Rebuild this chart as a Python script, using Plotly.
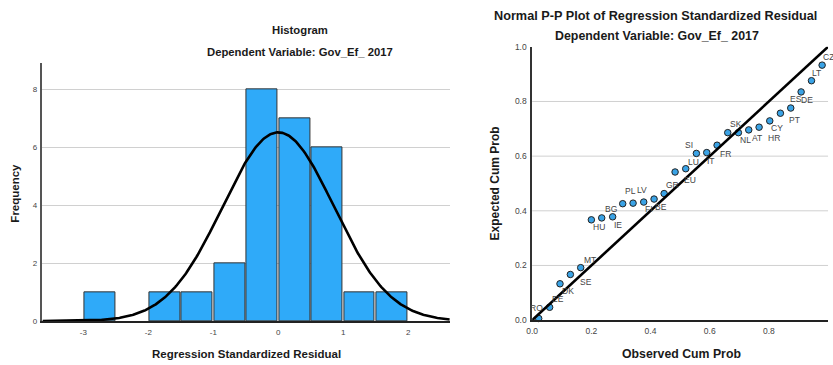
import numpy as np
import plotly.graph_objects as go

# ---- Histogram of regression standardized residuals ----
bin_left = [-3.0, -2.0, -1.5, -1.0, -0.5, 0.0, 0.5, 1.0, 1.5]
bin_count = [1, 1, 1, 2, 8, 7, 6, 1, 1]
bin_width = 0.5
resid_mean = 0.0
resid_sd = 0.857
n_obs = 28
hist_xticks = [-3, -2, -1, 0, 1, 2]
hist_xticktext = ["-3", "-2", "-1", "0", "1", "2"]
hist_yticks = [0, 2, 4, 6, 8]

# ---- Normal P-P plot ----
countries = ["RO", "EE", "DK", "SE", "MT", "HU", "BG", "IE", "PL", "LV",
             "FI", "BE", "GR", "EU", "LU", "SI", "IT", "FR", "SK", "NL",
             "AT", "HR", "CY", "PT", "ES", "DE", "LT", "CZ"]
observed = [0.022, 0.059, 0.094, 0.129, 0.164, 0.200, 0.235, 0.272, 0.306, 0.341,
            0.377, 0.412, 0.446, 0.483, 0.519, 0.555, 0.590, 0.625, 0.661, 0.697,
            0.732, 0.767, 0.803, 0.839, 0.874, 0.909, 0.944, 0.980]
expected = [0.006, 0.047, 0.133, 0.167, 0.192, 0.367, 0.374, 0.378, 0.426, 0.428,
            0.432, 0.443, 0.463, 0.542, 0.554, 0.610, 0.613, 0.640, 0.686, 0.686,
            0.696, 0.706, 0.729, 0.757, 0.776, 0.835, 0.876, 0.933]
# label offsets from each point, in pixels (right, down)
label_dx = [-2, 8, 8, 16, 9, 8, 9, 5, 8, 9, 5, 7, 8, 15, 8, -7, 4, 8, 8, 7,
            8, 15, 7, 14, 5, 6, 5, 6]
label_dy = [-10, -8, 7, 8, -8, 7, -9, 8, -13, -13, 7, 8, -9, 8, -7, -8, 8, 9, -9, 7,
            8, 11, 7, 7, -9, 8, -8, -8]
pp_ticks = [0.0, 0.2, 0.4, 0.6, 0.8, 1.0]
pp_grid = [0.2, 0.4, 0.6, 0.8]
ref_line = [0.0, 1.0]

W, H = 833, 365
FONT = "Liberation Sans, Arial, sans-serif"
BAR_BLUE = "#2faaf9"
DOT_BLUE = "#3aa3e6"


def px(x):
    return x / W


def py(y):
    return 1 - y / H


fig = go.Figure()

# histogram bars
centers = [b + bin_width / 2 for b in bin_left]
fig.add_trace(go.Bar(
    x=centers, y=bin_count, width=bin_width * 0.95,
    marker=dict(color=BAR_BLUE, line=dict(color="#333333", width=1)),
    xaxis="x", yaxis="y", showlegend=False, hoverinfo="skip"))

# fitted normal curve
x_lo, x_hi = -3.63, 2.64
xs = np.linspace(x_lo, x_hi, 400)
dens = np.exp(-0.5 * ((xs - resid_mean) / resid_sd) ** 2) / (resid_sd * np.sqrt(2 * np.pi))
fig.add_trace(go.Scatter(
    x=xs, y=n_obs * bin_width * dens, mode="lines",
    line=dict(color="#000000", width=2.6),
    xaxis="x", yaxis="y", showlegend=False, hoverinfo="skip"))

# P-P points
fig.add_trace(go.Scatter(
    x=observed, y=expected, mode="markers",
    marker=dict(size=6.5, color=DOT_BLUE, line=dict(color="#222222", width=1)),
    xaxis="x2", yaxis="y2", showlegend=False, cliponaxis=False))

# reference diagonal
fig.add_trace(go.Scatter(
    x=ref_line, y=ref_line, mode="lines",
    line=dict(color="#000000", width=2.6),
    xaxis="x2", yaxis="y2", showlegend=False, hoverinfo="skip"))

axis_font = dict(family=FONT, size=8, color="#444444")

fig.update_layout(
    width=W, height=H,
    margin=dict(l=0, r=0, t=0, b=0),
    paper_bgcolor="white", plot_bgcolor="white",
    font=dict(family=FONT),
    xaxis=dict(domain=[px(36.7), px(447)], range=[x_lo, x_hi],
               tickvals=hist_xticks, ticktext=hist_xticktext, tickfont=axis_font,
               showgrid=False, zeroline=False, showline=True,
               linecolor="#222222", linewidth=2, ticks="", ticklabelstandoff=2),
    yaxis=dict(domain=[py(325), py(60)], range=[0, 8.9],
               tickvals=hist_yticks, tickfont=axis_font,
               showgrid=True, gridcolor="#d0d0d0", gridwidth=1,
               zeroline=False, showline=True, linecolor="#555555", linewidth=1.5,
               ticks="", ticklabelstandoff=2),
    xaxis2=dict(domain=[px(530), px(828)], range=[0, 1], anchor="y2",
                tickvals=pp_ticks, tickformat=".1f", tickfont=dict(family=FONT, size=8.5, color="#444444"),
                showgrid=False, zeroline=False, showline=True,
                linecolor="#222222", linewidth=2, ticks="", ticklabelstandoff=2),
    yaxis2=dict(domain=[py(324), py(43)], range=[0, 1], anchor="x2",
                tickvals=pp_ticks, tickformat=".1f", tickfont=dict(family=FONT, size=8.5, color="#444444"),
                showgrid=False, zeroline=False, showline=True,
                linecolor="#333333", linewidth=1.5, ticks="", ticklabelstandoff=2),
    bargap=0,
)

# horizontal gridlines of the P-P plot
for g in pp_grid:
    fig.add_shape(type="line", xref="x2 domain", yref="y2", x0=0, x1=1, y0=g, y1=g,
                  line=dict(color="#d0d0d0", width=1), layer="below")

# point labels
for name, ox, oy, dx, dy in zip(countries, observed, expected, label_dx, label_dy):
    fig.add_annotation(x=ox, y=oy, xref="x2", yref="y2", text=name, showarrow=False,
                       xshift=dx, yshift=-dy, xanchor="center", yanchor="middle",
                       font=dict(family=FONT, size=8.5, color="#444444"))


def label(text, x, y, size, angle=0):
    fig.add_annotation(x=px(x), y=py(y), xref="paper", yref="paper", text=text,
                       showarrow=False, xanchor="center", yanchor="middle",
                       textangle=angle,
                       font=dict(family=FONT, size=size, color="#1a1a1a", weight="bold"))


label("Histogram", 296, 26, 11.3)
label("Dependent Variable: Gov_Ef_ 2017", 296, 48, 11.3)
label("Frequency", 9, 193, 11.5, angle=-90)
label("Regression Standardized Residual", 242, 359, 11.5)

label("Normal P-P Plot of Regression Standardized Residual", 654, 11, 12.7)
label("Dependent Variable: Gov_Ef_ 2017", 656, 32, 12.4)
label("Expected Cum Prob", 493, 183, 12, angle=-90)
label("Observed Cum Prob", 680, 359, 12.3)

fig.write_html("out.html")
